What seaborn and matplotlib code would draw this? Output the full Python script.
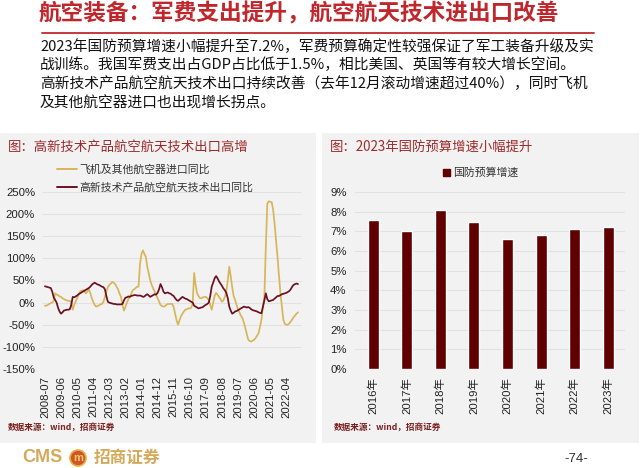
import numpy as np
import pandas as pd
import matplotlib
matplotlib.use("Agg")
import matplotlib.pyplot as plt
from matplotlib.lines import Line2D
from matplotlib.patches import Rectangle, Ellipse
import seaborn as sns

# ---------------- data ----------------
x_tick_labels = ["2008-07", "2009-06", "2010-05", "2011-04", "2012-03", "2013-02",
                 "2014-01", "2014-12", "2015-11", "2016-10", "2017-09", "2018-08",
                 "2019-07", "2020-06", "2021-05", "2022-04"]
series_names = ["飞机及其他航空器进口同比", "高新技术产品航空航天技术出口同比"]

# monthly values 2008-07 .. 2022-12 (%)
import_yoy = [
    -7, -7, -5, -3, -1, 0, 5, 21, 18, 17,
    14, 13, 10, 8, 6, 5, 4, 4, 0, -16,
    -5, 2, 10, 18, 25, 27, 28, 26, 21, 25,
    30, 22, 10, 2, -5, -9, -8, -6, -4, -3,
    2, 13, 25, 35, 40, 43, 47, 45, 42, 36,
    30, 20, 13, -5, -18, -10, 0, 7, 13, 20,
    28, 30, 33, 36, 36, 88, 110, 118, 110, 103,
    80, 66, 50, 40, 32, 25, 17, 10, 3, -5,
    -8, -9, -8, -5, -3, -3, -3, -3, -10, -25,
    -40, -50, -40, -31, -25, -20, -16, -15, -13, -13,
    -12, -2, 67, 40, 21, 15, 10, 10, 12, 13,
    13, 10, 6, -5, -16, 0, 15, 22, 18, 13,
    8, 2, 5, 13, 25, 51, 81, 60, 35, 15,
    6, -5, -16, -22, -30, -35, -45, -58, -70, -84,
    -87, -88, -86, -84, -80, -75, -69, -55, -39, -10,
    13, 126, 223, 229, 228, 227, 210, 178, 140, 103,
    60, 21, -10, -39, -48, -50, -50, -47, -43, -38,
    -33, -29, -25, -22]
export_yoy = [
    37, 36, 35, 34, 33, 25, 12, 6, 0, -12,
    -20, -25, -22, -18, -17, -16, -16, -15, -5, 13,
    12, 14, 16, 19, 21, 23, 25, 27, 29, 31,
    33, 36, 40, 43, 45, 43, 41, 40, 38, 36,
    35, 30, 15, 2, 0, -1, -2, -3, -3, -4,
    -4, -4, -4, -3, 5, 11, 12, 14, 13, 15,
    16, 17, 17, 16, 16, 16, 15, 13, 14, 17,
    19, 16, 13, 15, 17, 19, 18, 22, 30, 42,
    35, 25, 21, 22, 23, 21, 20, 17, 15, 10,
    6, 4, 7, 10, 13, 11, 9, 8, 6, 4,
    2, 0, -7, -9, -11, -13, -12, -11, -10, -7,
    -5, -3, 0, 15, 36, 45, 55, 60, 55, 48,
    43, 38, 32, 28, 22, 10, -9, -18, -25, -23,
    -20, -19, -17, -15, -13, -11, -9, -10, -11, -10,
    -12, -15, -17, -18, -19, -20, -22, -23, -24, -10,
    5, 21, 8, 3, 4, 5, 6, 9, 12, 15,
    15, 17, 19, 20, 21, 22, 24, 26, 30, 36,
    40, 42, 43, 42]

left_y_ticks = [-150, -100, -50, 0, 50, 100, 150, 200, 250]

years = ["2016年", "2017年", "2018年", "2019年", "2020年", "2021年", "2022年", "2023年"]
budget_growth = [7.6, 7.0, 8.1, 7.5, 6.6, 6.8, 7.1, 7.2]
bar_series_name = "国防预算增速"
right_y_ticks = [0, 1, 2, 3, 4, 5, 6, 7, 8, 9]

# ---------------- style ----------------
sns.set_theme(style="white")
plt.rcParams["font.family"] = ["Noto Sans CJK SC", "DejaVu Sans"]
NUM_FONT = ["Liberation Sans", "Noto Sans CJK SC"]

W, H = 640, 468
def fx(x): return x / W
def fy(y): return 1 - y / H

RED = "#C0272D"
PANEL_TITLE = "#9E2A2B"
GOLD = "#D9B55A"
MAROON = "#6B1020"
BAR = "#600000"
PANEL_BG = "#F2F2F2"
GRID = "#E2E2E2"

fig = plt.figure(figsize=(6.4, 4.68), dpi=100)
fig.patch.set_facecolor("white")

# panels
fig.patches.append(Rectangle((fx(0), fy(443)), fx(316), (443 - 133) / H,
                             transform=fig.transFigure, facecolor=PANEL_BG,
                             edgecolor="none", zorder=-5))
fig.patches.append(Rectangle((fx(322), fy(443)), fx(639 - 322), (443 - 133) / H,
                             transform=fig.transFigure, facecolor=PANEL_BG,
                             edgecolor="none", zorder=-5))

# header
fig.text(fx(38), fy(14), "航空装备：军费支出提升，航空航天技术进出口改善",
         fontsize=16.3, fontweight="bold", color=RED, va="center", ha="left")
fig.add_artist(Line2D([fx(42), fx(594)], [fy(33), fy(33)], color=RED, lw=1.3,
                      transform=fig.transFigure))
body = [
    (47, "2023年国防预算增速小幅提升至7.2%，军费预算确定性较强保证了军工装备升级及实"),
    (65, "战训练。我国军费支出占GDP占比低于1.5%，相比美国、英国等有较大增长空间。"),
    (84, "高新技术产品航空航天技术出口持续改善（去年12月滚动增速超过40%），同时飞机"),
    (103, "及其他航空器进口也出现增长拐点。"),
]
for y, t in body:
    fig.text(fx(40), fy(y), t, fontsize=10.6, color="#111111", va="center", ha="left")

# ---------------- left chart ----------------
n = len(export_yoy)
df_line = pd.DataFrame({
    "idx": np.tile(np.arange(n), 2),
    "value": import_yoy + export_yoy,
    "series": [series_names[0]] * n + [series_names[1]] * n,
})
ax1 = fig.add_axes([fx(42), fy(369), (302.4 - 42) / W, (369 - 192) / H])
ax1.set_facecolor("none")
sns.lineplot(data=df_line, x="idx", y="value", hue="series",
             palette={series_names[0]: GOLD, series_names[1]: MAROON},
             linewidth=1.25, ax=ax1, legend=False)
ax1.set_xlim(-2, 176)
ax1.set_ylim(-150, 250)
ax1.set_yticks(left_y_ticks)
ax1.set_yticklabels([f"{v}%" for v in left_y_ticks], fontfamily=NUM_FONT, fontsize=8.2)
ax1.set_xticks(np.arange(0, 11 * len(x_tick_labels), 11))
ax1.set_xticklabels(x_tick_labels, rotation=90, fontfamily=NUM_FONT, fontsize=8.2)
ax1.grid(axis="y", color=GRID, lw=0.8)
ax1.set_axisbelow(True)
for s in ax1.spines.values():
    s.set_visible(False)
ax1.tick_params(length=0, pad=5, colors="#222222")
ax1.set_xlabel("")
ax1.set_ylabel("")

handles = [Line2D([], [], color=GOLD, lw=1.4), Line2D([], [], color=MAROON, lw=1.4)]
fig.legend(handles, series_names, loc="upper left", bbox_to_anchor=(fx(57), fy(164)),
           frameon=False, fontsize=7.8, handlelength=1.8, handletextpad=0.3,
           labelspacing=0.75, borderaxespad=0, borderpad=0, labelcolor="#333333")

fig.text(fx(8), fy(147), "图：高新技术产品航空航天技术出口高增", fontsize=9.6,
         color=PANEL_TITLE, va="center", ha="left")
fig.text(fx(8), fy(427), "数据来源：wind，招商证券", fontsize=6.2, fontweight="bold",
         color="#7A2020", va="center", ha="left")

# ---------------- right chart ----------------
df_bar = pd.DataFrame({"year": years, "growth": budget_growth})
ax2 = fig.add_axes([fx(355), fy(369), 270 / W, (369 - 192) / H])
ax2.set_facecolor("none")
sns.barplot(data=df_bar, x="year", y="growth", color=BAR, width=0.33, ax=ax2,
            saturation=1)
ax2.set_xlim(-0.54, 7.5)
ax2.set_ylim(0, 9)
ax2.set_yticks(right_y_ticks)
ax2.set_yticklabels([f"{v}%" for v in right_y_ticks], fontfamily=NUM_FONT, fontsize=8.2)
ax2.set_xticks(range(len(years)))
ax2.set_xticklabels(years, rotation=90, fontfamily=NUM_FONT, fontsize=8.2)
ax2.grid(axis="y", color=GRID, lw=0.8)
ax2.set_axisbelow(True)
for s in ax2.spines.values():
    s.set_visible(False)
ax2.tick_params(length=0, pad=6, colors="#222222")
ax2.set_xlabel("")
ax2.set_ylabel("")

fig.legend([Rectangle((0, 0), 1, 1, color=BAR)], [bar_series_name], loc="center left",
           bbox_to_anchor=(fx(443), fy(173)), frameon=False, fontsize=7.8,
           handlelength=0.6, handleheight=0.6, handletextpad=0.3, borderaxespad=0,
           borderpad=0, labelcolor="#333333")

fig.text(fx(330), fy(147), "图：2023年国防预算增速小幅提升", fontsize=9.6,
         color=PANEL_TITLE, va="center", ha="left")
fig.text(fx(334), fy(427), "数据来源：wind，招商证券", fontsize=6.2, fontweight="bold",
         color="#7A2020", va="center", ha="left")

# ---------------- footer ----------------
fig.text(fx(22), fy(458), "CMS", fontsize=13, fontweight="bold", color="#D4AA5A",
         va="center", ha="left", fontfamily=NUM_FONT)
fig.patches.append(Ellipse((fx(78), fy(458)), 16 / W, 16 / H, transform=fig.transFigure,
                           facecolor="#D0552A", edgecolor="#E8B040", lw=1.2))
fig.text(fx(78), fy(458), "m", fontsize=8, fontweight="bold", color="#F4D060",
         va="center", ha="center", fontfamily=NUM_FONT)
fig.text(fx(94), fy(458), "招商证券", fontsize=12, fontweight="bold", color="#D4AA5A",
         va="center", ha="left")
fig.text(fx(576), fy(459), "-74-", fontsize=9.5, color="#333333", va="center",
         ha="center", fontfamily=NUM_FONT)

fig.savefig("out.png", dpi=100, facecolor="white")
